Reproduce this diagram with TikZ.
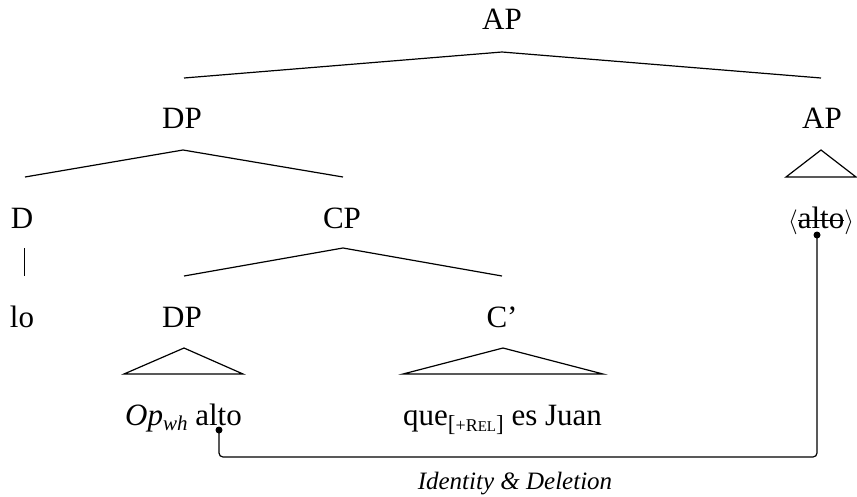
\documentclass[tikz,border=0pt]{standalone}
\usepackage{fontspec}
\setmainfont{Liberation Serif}
\newcommand\strkout[1]{\setbox0=\hbox{#1}\rlap{\rule[7pt]{\wd0}{1.2pt}}\box0}
\begin{document}
\begin{tikzpicture}[x=1pt,y=-1pt,
  lab/.style={anchor=base, inner sep=0pt, font=\fontsize{31}{36}\selectfont},
  labw/.style={anchor=base west, inner sep=0pt, font=\fontsize{31}{36}\selectfont},
  edge/.style={line width=1.2pt},
  tri/.style={line width=1.2pt, line join=miter},
  dotc/.style={fill=black, circle, inner sep=0pt, minimum size=7pt},
  link/.style={line width=1.2pt, rounded corners=4pt}]
\useasboundingbox (0,0) rectangle (857,496);

% row 0
\node[lab] (ap0) at (502,29) {AP};
\coordinate (ap0t) at (502,52);
\coordinate (ap0l) at (184,78);
\coordinate (ap0r) at (821,78);
\draw[edge] (ap0l) -- (ap0t) -- (ap0r);

% row 1
\node[lab] (dp1) at (182,128) {DP};
\node[lab] (ap1) at (822,128) {AP};
\coordinate (dp1t) at (183,150);
\coordinate (dp1l) at (25,177);
\coordinate (dp1r) at (343,177);
\draw[edge] (dp1l) -- (dp1t) -- (dp1r);
\coordinate (ap1t) at (821,150);
\coordinate (ap1l) at (786,177);
\coordinate (ap1r) at (856,177);
\draw[tri] (ap1t) -- (ap1l) -- (ap1r) -- cycle;

% row 2
\node[lab] (d2) at (22,228) {D};
\node[lab] (cp2) at (342,228) {CP};
\node[lab] (alto2) at (821,228) {$\langle$\strkout{alto}$\rangle$};
\coordinate (d2b) at (24,248);
\coordinate (lo3t) at (24,276);
\draw[line width=1pt] (d2b) -- (lo3t);
\coordinate (cp2t) at (343,248);
\coordinate (cp2l) at (184,276);
\coordinate (cp2r) at (502,276);
\draw[edge] (cp2l) -- (cp2t) -- (cp2r);

% row 3
\node[lab] (lo3) at (22,327) {lo};
\node[lab] (dp3) at (182,327) {DP};
\node[lab] (cb3) at (502,327) {C'};
\coordinate (dp3t) at (184,348);
\coordinate (dp3l) at (124,374);
\coordinate (dp3r) at (243,374);
\draw[tri] (dp3t) -- (dp3l) -- (dp3r) -- cycle;
\coordinate (cb3t) at (503,348);
\coordinate (cb3l) at (403,374);
\coordinate (cb3r) at (603,374);
\draw[tri] (cb3t) -- (cb3l) -- (cb3r) -- cycle;

% row 4
\node[labw] (op4) at (125,425) {\textit{Op}\raisebox{-5pt}{\fontsize{21}{24}\selectfont\itshape wh} alto};
\node[labw] (que4) at (403,425) {que\raisebox{-6pt}{\fontsize{23}{24}\selectfont[\fontsize{18}{18}\selectfont+R\fontsize{15}{16}\selectfont EL\fontsize{23}{24}\selectfont]} es Juan};

% identity link
\node[dotc] (dotr) at (817,235) {};
\node[dotc] (dotl) at (219,430) {};
\coordinate (cr) at (817,457);
\coordinate (cl) at (219,457);
\draw[link] (dotr.center) -- (cr) -- (cl) -- (dotl.center);
\node[anchor=base, inner sep=0pt, font=\fontsize{25}{30}\selectfont\itshape] (lbl) at (515,489) {Identity \& Deletion};
\end{tikzpicture}
\end{document}
